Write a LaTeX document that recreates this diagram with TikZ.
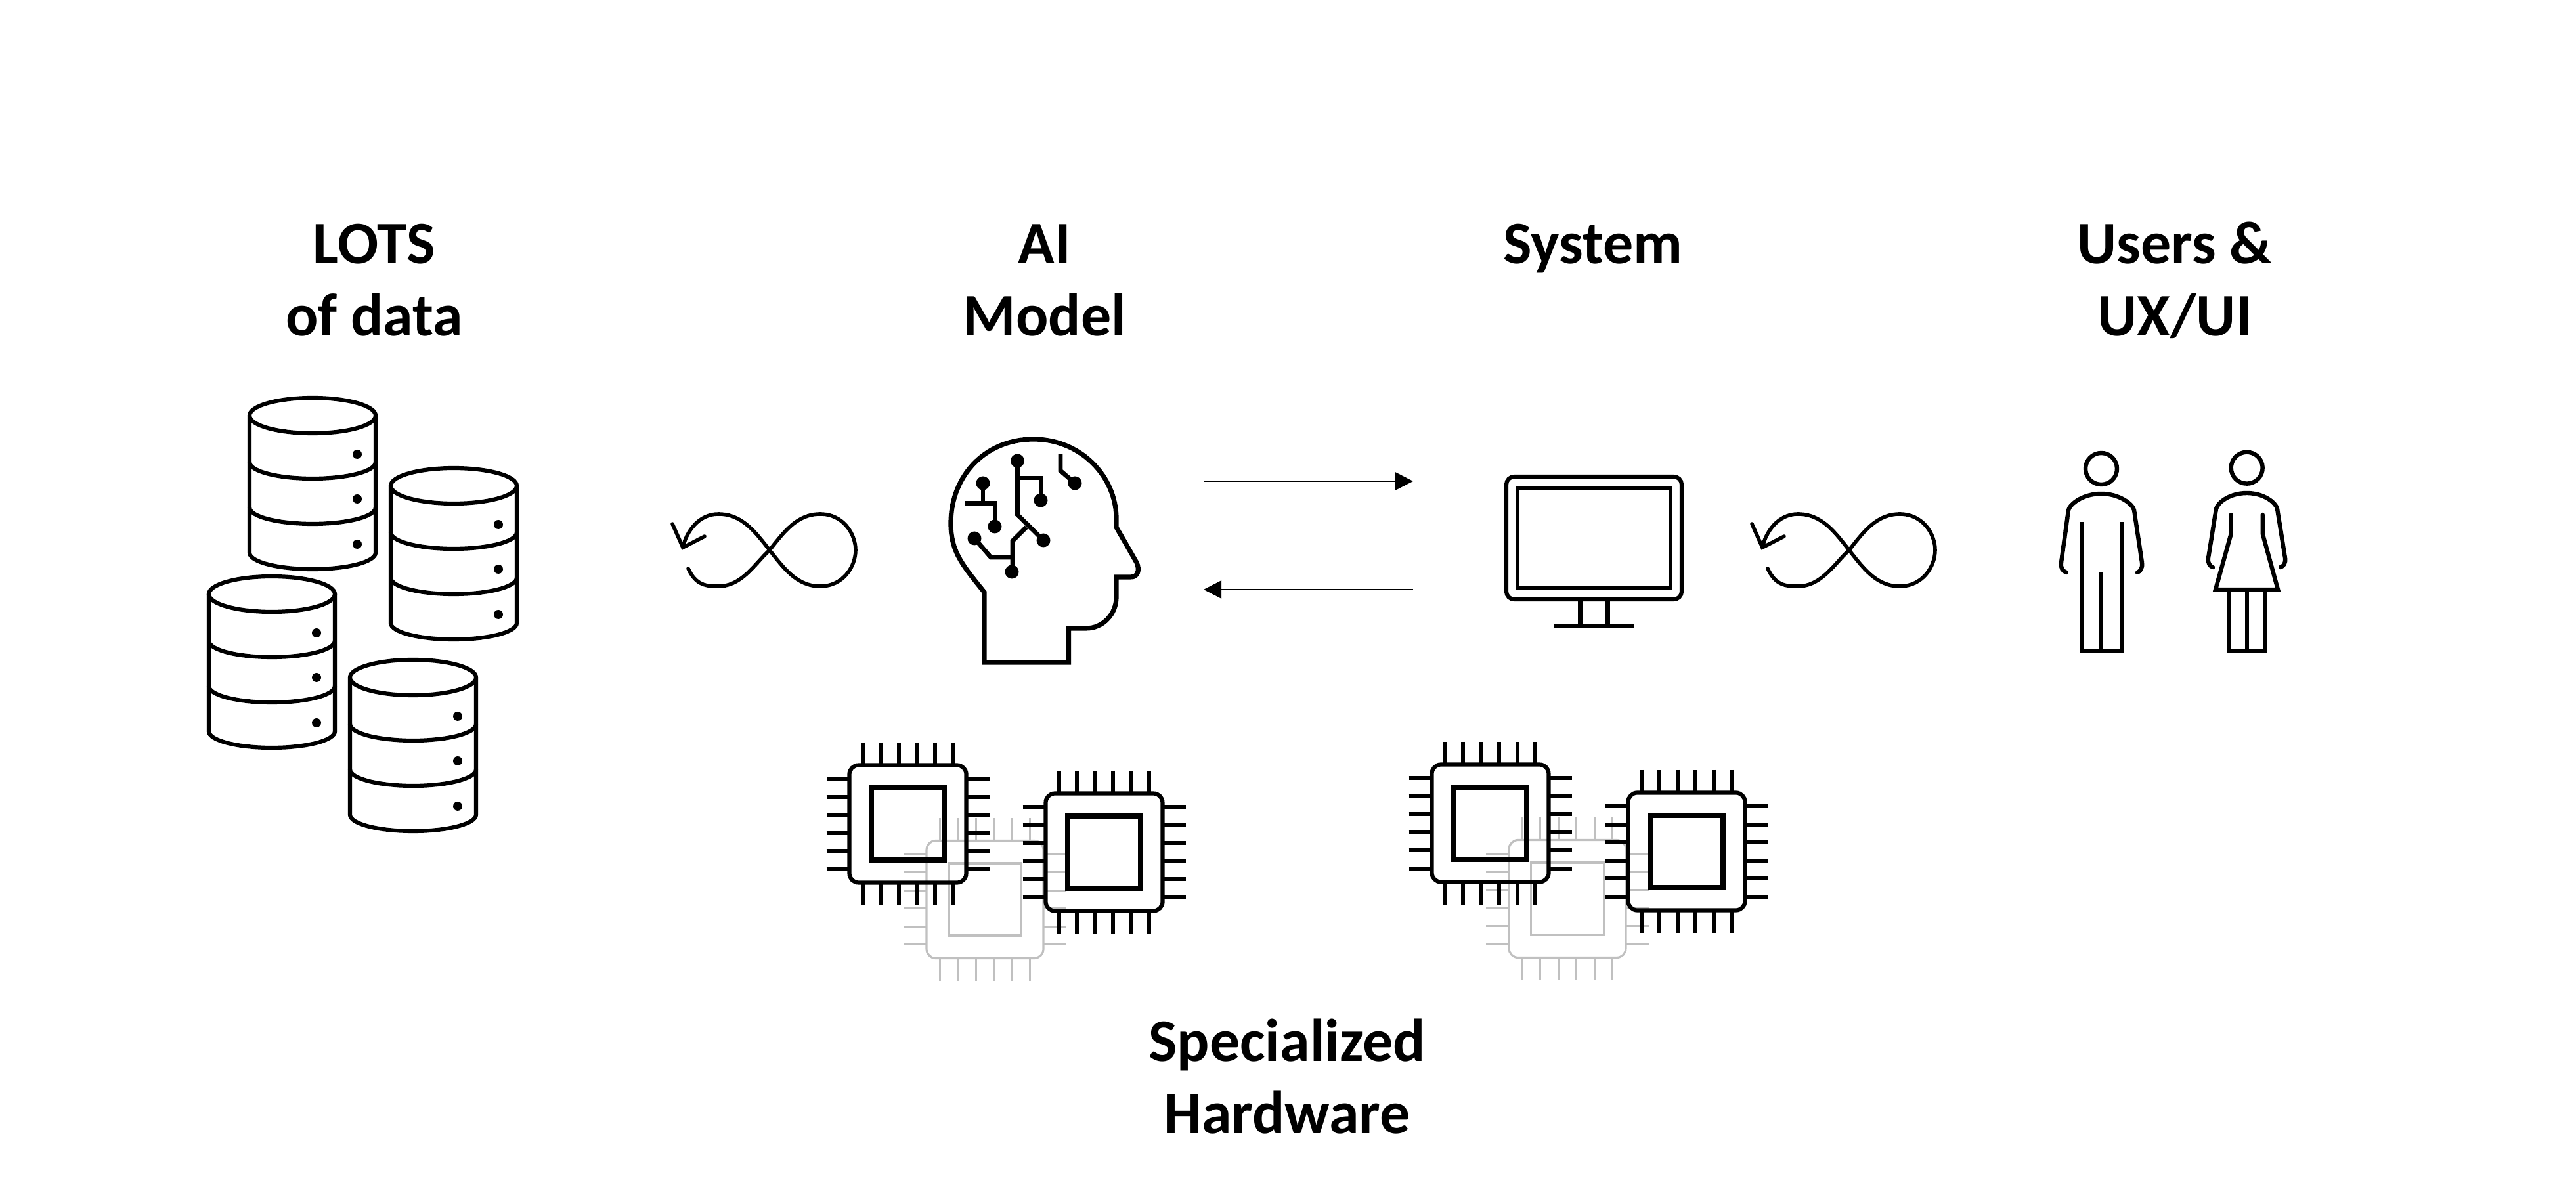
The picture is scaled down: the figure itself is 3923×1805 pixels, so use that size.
\documentclass[tikz,border=0pt]{standalone}
\usepackage{fontspec}
\setmainfont{Carlito}
\usetikzlibrary{arrows.meta}

\tikzset{
  icon/.style={line width=1.55pt,color=black},
  thinicon/.style={line width=1.4pt,color=black,line cap=round},
  flow/.style={line width=0.65pt,-{Triangle[length=6.75pt,width=6.75pt]}},
  headline/.style={font=\fontsize{23}{27.5}\selectfont\bfseries,align=center,inner sep=0pt},
  fadedchip/.style={color={rgb, 255:red, 192; green, 192; blue, 192 },line width=0.8pt},
  solidchip/.style={color=black,line width=1.55pt}
}

%one database at the centre of its top ellipse
\newcommand{\dbstack}[2]{
  \begin{scope}[shift={(#1,#2)},icon]
    \draw (0,0) ellipse [x radius=96,y radius=27];
    \draw (-96,0) -- (-96,209) arc [start angle=180,end angle=0,x radius=96,y radius=25] -- (96,0);
    \draw (-96,71) arc [start angle=180,end angle=0,x radius=96,y radius=25];
    \draw (-96,140) arc [start angle=180,end angle=0,x radius=96,y radius=25];
    \foreach \doty in {59,127,196} \fill (68,\doty) circle (7);
  \end{scope}
}

%one chip at its centre
\newcommand{\chipicon}[3]{
  \begin{scope}[shift={(#1,#2)},#3]
    \draw [rounded corners=3.5pt] (-89,-89.5) rectangle (89,89.5);
    \draw [line width=1.1*\pgflinewidth] (-55.5,-55) rectangle (55.5,55);
    \foreach \pin in {-68.75,-41.25,-13.75,13.75,41.25,68.75} {
      \draw (\pin,-124) -- (\pin,-89.5) (\pin,89.5) -- (\pin,124);
      \draw (-124,\pin) -- (-89,\pin) (89,\pin) -- (124,\pin);
    }
  \end{scope}
}

%infinity loop at its crossing
\newcommand{\loopicon}[2]{
  \begin{scope}[shift={(#1,#2)},thinicon]
    \draw (-124,28) .. controls (-112,54) and (-96,55) .. (-78,55) .. controls (-42,55) and (-22,20) .. (0,0) .. controls (22,-28) and (42,-55) .. (77,-55) .. controls (112,-55) and (131,-25) .. (131,0) .. controls (131,25) and (112,55) .. (77,55) .. controls (42,55) and (22,28) .. (0,0) .. controls (-22,-28) and (-42,-55) .. (-78,-55) .. controls (-108,-55) and (-127,-28) .. (-132,-4);
    \draw [line join=miter] (-148,-40) -- (-132,-4) -- (-99,-21);
  \end{scope}
}

\begin{document}
\begin{tikzpicture}[x=0.25pt,y=0.25pt,yscale=-1,xscale=1]
\useasboundingbox (0,0) rectangle (3923,1805);

%Shape: Databases
\dbstack{476}{633}
\dbstack{691}{740}
\dbstack{414}{905}
\dbstack{629}{1032}

%Shape: Loops
\loopicon{1172}{838}
\loopicon{2816}{838}

%Shape: Head
\draw [line width=1.8pt,line join=miter] (1499,902) .. controls (1465,860) and (1448,840) .. (1448,797) .. controls (1448,725) and (1500,669) .. (1574,669) .. controls (1645,669) and (1700,725) .. (1700,790) -- (1700,803) -- (1731,857) .. controls (1736,868) and (1733,879) .. (1722,879) -- (1700,879) -- (1700,910) .. controls (1700,935) and (1680,957) .. (1654,957) -- (1627.5,957) -- (1627.5,1009) -- (1499,1009) -- cycle;
%Shape: Circuit
\begin{scope}[line width=1.7pt]
  \draw (1497,736) -- (1497,766.5) (1469,766.5) -- (1515,766.5) -- (1515,802);
  \draw (1549.5,702) -- (1549.5,784) -- (1589,823);
  \draw (1549.5,728) -- (1585,728) -- (1585,762);
  \draw (1563,803) -- (1542,824) -- (1542,871);
  \draw (1484,820) -- (1509,849) -- (1542,849);
  \draw (1615,692) -- (1615,717) -- (1637,736);
  \foreach \dotx/\doty in {1549.5/702,1497/736,1637/736,1585/762,1515/802,1484/820,1589/823,1541/871}
    \fill (\dotx,\doty) circle (10.5);
\end{scope}

%Shape: Arrow ends
\coordinate (aimodelout) at (1833,733);
\coordinate (systemin) at (2152,733);
\coordinate (systemout) at (2152,898);
\coordinate (aimodelin) at (1833,898);
\draw [flow] (aimodelout) -- (systemin);
\draw [flow] (systemout) -- (aimodelin);

%Shape: Monitor
\draw [icon,rounded corners=3pt] (2294,726) rectangle (2561,913);
\draw [icon] (2311,744) rectangle (2544,895);
\draw [icon] (2406.5,913) -- (2406.5,954) (2448.5,913) -- (2448.5,954);
\draw [icon,line width=1.75pt] (2366,954) -- (2489,954);

%Shape: Man
\draw [thinicon,line width=1.6pt] (3200,714) circle (24);
\draw [thinicon,line width=1.6pt] (3147,872) .. controls (3141,870) and (3138,865) .. (3139,857) -- (3150,777) .. controls (3152,768) and (3172,752) .. (3200,752) .. controls (3228,752) and (3248,768) .. (3250,777) -- (3262,857) .. controls (3263,865) and (3260,870) .. (3255,872);
\draw [thinicon,line width=1.6pt] (3170,795) -- (3170,992) [line cap=butt] -- (3231,992) -- (3231,795);
\draw [line width=1.6pt] (3200,872) -- (3200,992);

%Shape: Woman
\draw [thinicon,line width=1.6pt] (3421.7,712.7) circle (24);
\draw [thinicon,line width=1.6pt] (3370,864) .. controls (3365,862) and (3362,858) .. (3363,850) -- (3375,775) .. controls (3377,766) and (3395,751) .. (3421.7,751) .. controls (3448,751) and (3466,766) .. (3468,775) -- (3480,850) .. controls (3481,858) and (3478,862) .. (3473,864);
\draw [thinicon,line width=1.6pt,line join=miter] (3397.7,784) -- (3397.7,813) -- (3374,898) -- (3469,898) -- (3445.7,813) -- (3445.7,784);
\draw [line width=1.6pt] (3394,898) -- (3394,991) -- (3449,991) -- (3449,898) (3421.7,898) -- (3421.7,991);

%Shape: Chips
\chipicon{1500}{1370}{fadedchip}
\chipicon{1382.5}{1255}{solidchip}
\chipicon{1681.5}{1298}{solidchip}
\chipicon{2387}{1369}{fadedchip}
\chipicon{2269.5}{1254}{solidchip}
\chipicon{2568.5}{1297}{solidchip}

% Text Node
\draw (570,427) node (lotslabel) [headline] {LOTS\\of data};
% Text Node
\draw (1591,427) node (modellabel) [headline] {AI\\Model};
% Text Node
\draw (2426,379) node (systemlabel) [headline] {System};
% Text Node
\draw (3312,427) node (userslabel) [headline] {Users \&\\UX/UI};
% Text Node
\draw (1960,1640) node (hardwarelabel) [headline] {Specialized\\Hardware};

\end{tikzpicture}
\end{document}
